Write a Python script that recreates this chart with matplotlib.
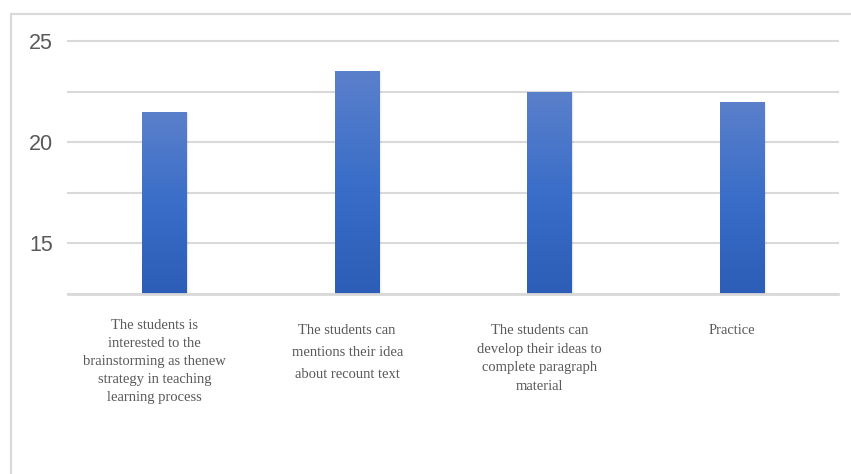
import numpy as np
import matplotlib
matplotlib.use("Agg")
import matplotlib.pyplot as plt
from matplotlib.transforms import blended_transform_factory
from matplotlib.lines import Line2D

# Data
categories = [
    "The students is\ninterested to the\nbrainstorming as thenew\nstrategy in teaching\nlearning process",
    "The students can\nmentions their idea\nabout recount text",
    "The students can\ndevelop their ideas to\ncomplete paragraph\nmaterial",
    "Practice",
]
values = [21.5, 23.5, 22.5, 22.0]
y_ticks = [15, 20, 25]

# label layout (word-style wrapping gives uneven spacing)
label_top = [-0.1, -0.12, -0.12, -0.12]
label_spacing = [1.5, 1.9, 1.55, 1.5]

fig = plt.figure(figsize=(8.51, 4.74), dpi=100)
ax = fig.add_axes([68 / 851, 1 - 294 / 474, (838 - 68) / 851, (294 - 41) / 474])

x = np.arange(len(values))
bars = ax.bar(x, values, width=0.23, color="#4472c4", zorder=3)

# vertical gradient on the bars, light on top -> darker at bottom
grad = np.linspace(0, 1, 256).reshape(-1, 1)
cmap = matplotlib.colors.LinearSegmentedColormap.from_list("g", ["#2c5db7", "#3a6ec8", "#5b80cb"])
for b in bars:
    bx, bw, bh = b.get_x(), b.get_width(), b.get_height()
    # soft shadow
    for k, a in enumerate([0.06, 0.04, 0.02]):
        sh = plt.Rectangle((bx + bw + 0.004 * k, 12.5), 0.006, bh - 12.5 - 0.05,
                           color="black", alpha=a, zorder=2, lw=0)
        ax.add_patch(sh)
    b.set_facecolor("none")
    im = ax.imshow(grad, cmap=cmap, aspect="auto", origin="lower",
                   extent=[bx, bx + bw, 12.5, bh], zorder=3)
    im.set_clip_path(b)

ax.set_xlim(-0.5, len(values) - 0.5)
ax.set_ylim(12.5, 25)
all_ticks = [12.5, 15, 17.5, 20, 22.5, 25]
ax.set_yticks(all_ticks)
ax.set_yticklabels([str(int(t)) if t in y_ticks else "" for t in all_ticks],
                   fontfamily="Liberation Sans", fontsize=15.5, color="#595959")
ax.tick_params(axis="y", length=0, pad=11)
ax.set_xticks([])
ax.yaxis.grid(True, color="#d9d9d9", linewidth=1.5, zorder=0)
ax.set_axisbelow(True)
for gl in ax.get_ygridlines():
    gl.set_clip_on(False)
for s in ["top", "right", "left"]:
    ax.spines[s].set_visible(False)
ax.spines["bottom"].set_color("#d9d9d9")
ax.spines["bottom"].set_linewidth(2)
ax.spines["bottom"].set_zorder(4)

trans = blended_transform_factory(ax.transData, ax.transAxes)
for i, lab in enumerate(categories):
    ax.text(i - 0.05, label_top[i], lab, transform=trans, ha="center", va="top",
            fontfamily="Liberation Serif", fontsize=10.5, color="#595959",
            linespacing=label_spacing[i])

# chart-area frame (left and top edges visible)
fig.add_artist(Line2D([11 / 851, 11 / 851], [0, 1 - 14 / 474], color="#d9d9d9", lw=1.5))
fig.add_artist(Line2D([11 / 851, 1], [1 - 14 / 474, 1 - 14 / 474], color="#d9d9d9", lw=1.5))

fig.savefig("out.png", dpi=100)
